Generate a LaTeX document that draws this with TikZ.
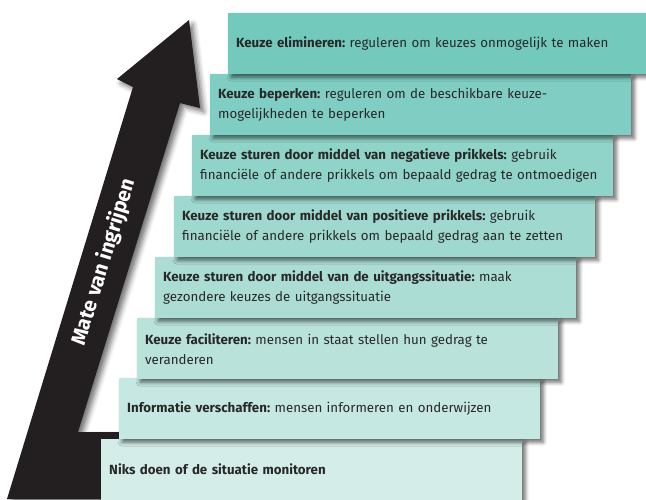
\documentclass[tikz,border=0pt]{standalone}
\usepackage{fontspec}
\setmainfont{Fira Sans}
\usetikzlibrary{shadows.blur}
\frenchspacing
\definecolor{c1}{RGB}{116,201,189}
\definecolor{c2}{RGB}{128,206,195}
\definecolor{c3}{RGB}{143,211,201}
\definecolor{c4}{RGB}{158,216,207}
\definecolor{c5}{RGB}{172,221,213}
\definecolor{c6}{RGB}{185,226,219}
\definecolor{c7}{RGB}{198,232,226}
\definecolor{c8}{RGB}{212,237,232}
\definecolor{txt}{RGB}{40,40,40}
\definecolor{arrowblack}{RGB}{35,31,32}
\tikzset{
  stepbox/.style={anchor=north west, minimum height=61pt, text width=405pt,
    inner xsep=8pt, inner ysep=0pt, align=left,
    font=\fontsize{13.3}{20}\selectfont\frenchspacing, text=txt,
    blur shadow={shadow xshift=3pt, shadow yshift=-3pt, shadow blur radius=4pt, shadow opacity=60}},
  arrowshape/.style={fill=arrowblack,
    blur shadow={shadow xshift=4pt, shadow yshift=-4pt, shadow blur radius=5pt, shadow opacity=55}},
  arrowlabel/.style={text=white, font=\fontsize{20.5}{24}\selectfont\bfseries}
}
\begin{document}
\begin{tikzpicture}[x=1pt,y=-1pt]
\useasboundingbox (0,0) rectangle (646,499);
% arrow
\coordinate (tip) at (189,20);
\coordinate (hr) at (200,108);
\coordinate (sr) at (180,103);
\coordinate (sb) at (78,432);
\coordinate (sbr) at (300,432);
\coordinate (bbr) at (300,499);
\coordinate (bl) at (7,499);
\coordinate (sl) at (133,87);
\coordinate (hl) at (117,79);
\path[arrowshape] (tip) -- (hr) -- (sr) -- (sb) -- (sbr) -- (bbr) -- (bl) -- (sl) -- (hl) -- cycle;
\node[arrowlabel, rotate=72.8] (lab) at (104,262) {Mate van ingrijpen};
% boxes, bottom first
\node[stepbox, fill=c8] (b8) at (101,439) {\textbf{Niks doen of de situatie monitoren}};
\node[stepbox, fill=c7] (b7) at (119,378) {\textbf{Informatie verschaffen:} mensen informeren en onderwijzen};
\node[stepbox, fill=c6] (b6) at (137,318) {\textbf{Keuze faciliteren:} mensen in staat stellen hun gedrag te\\veranderen};
\node[stepbox, fill=c5] (b5) at (155,257) {\textbf{Keuze sturen door middel van de uitgangssituatie:} maak\\gezondere keuzes de uitgangssituatie};
\node[stepbox, fill=c4] (b4) at (174,196) {\textbf{Keuze sturen door middel van positieve prikkels:} gebruik\\financiële of andere prikkels om bepaald gedrag aan te zetten};
\node[stepbox, fill=c3] (b3) at (192,135) {\textbf{Keuze sturen door middel van negatieve prikkels:} gebruik\\financiële of andere prikkels om bepaald gedrag te ontmoedigen};
\node[stepbox, fill=c2] (b2) at (210,74) {\textbf{Keuze beperken:} reguleren om de beschikbare keuze-\\mogelijkheden te beperken};
\node[stepbox, fill=c1, text width=402pt] (b1) at (228,13) {\textbf{Keuze elimineren:} reguleren om keuzes onmogelijk te maken};
\end{tikzpicture}
\end{document}
